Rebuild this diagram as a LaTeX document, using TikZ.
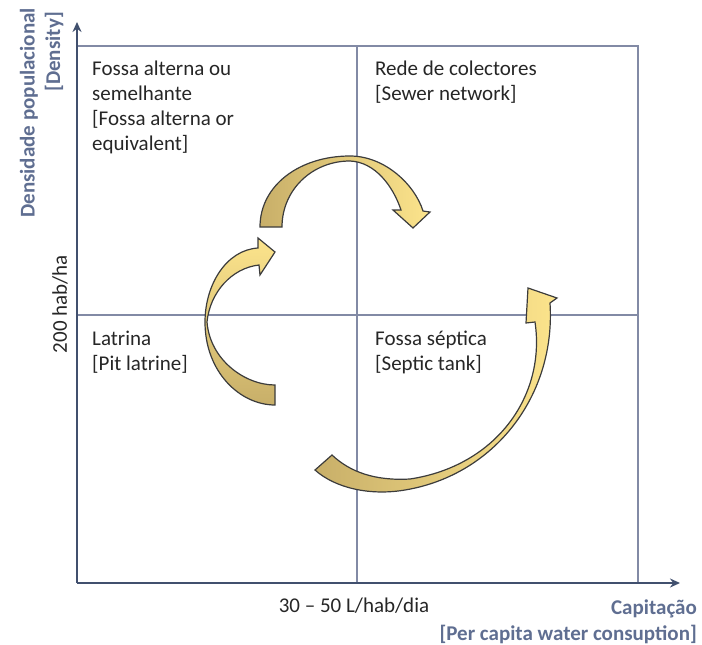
\documentclass[tikz,border=0pt]{standalone}
\usepackage{fontspec}
\setmainfont{Carlito}
\usetikzlibrary{arrows.meta}
\definecolor{axiscol}{RGB}{65,80,110}
\definecolor{labelcol}{RGB}{95,110,145}
\definecolor{gridcol}{RGB}{130,138,165}
\definecolor{tanc}{RGB}{200,175,105}
\definecolor{lightyel}{RGB}{252,228,140}
\definecolor{outlinec}{RGB}{60,60,60}
\tikzset{
  gridline/.style={draw=gridcol, line width=1.2pt},
  axisline/.style={draw=axiscol, line width=2.4pt, -{Stealth[length=10pt,width=9pt]}},
  quad/.style={font=\fontsize{21}{25}\selectfont, align=left, anchor=base west, inner sep=0pt, text=black!85},
  plain/.style={font=\fontsize{21}{25}\selectfont, inner sep=0pt, text=black!85},
  axlabel/.style={font=\fontsize{21}{25}\selectfont\bfseries, text=labelcol, inner sep=0pt},
  blockarrow/.style={draw=outlinec, line width=1.2pt, line join=miter},
}
\begin{document}
\begin{tikzpicture}[x=1pt,y=-1pt]
\useasboundingbox (0,0) rectangle (702,645);
% frame coordinates
\coordinate (O) at (77,583);
\coordinate (ytip) at (77,22);
\coordinate (xtip) at (680,583);
\coordinate (TL) at (77,46);
\coordinate (TR) at (638,46);
\coordinate (BR) at (638,583);
\coordinate (TM) at (357,46);
\coordinate (BM) at (357,583);
\coordinate (ML) at (77,315);
\coordinate (MR) at (638,315);
% grid
\draw[gridline] (TL) -- (TR) -- (BR);
\draw[gridline] (TM) -- (BM);
\draw[gridline] (ML) -- (MR);
% axes
\draw[axisline] (O) -- (ytip);
\draw[axisline] (O) -- (xtip);
% quadrant labels (anchored at the baseline of the last line)
\node[quad] (q1) at (92,150) {Fossa alterna ou\\semelhante\\{}[Fossa alterna or\\equivalent]};
\node[quad] (q2) at (375,100) {Rede de colectores\\{}[Sewer network]};
\node[quad] (q3) at (92,370) {Latrina\\{}[Pit latrine]};
\node[quad] (q4) at (375,370) {Fossa séptica\\{}[Septic tank]};
% axis labels
\node[axlabel, rotate=90, anchor=east] (ylab1) at (29,8) {Densidade populacional};
\node[axlabel, rotate=90, anchor=east] (ylab2) at (54,12) {[Density]};
\node[plain, rotate=90] (dens) at (60,304) {200 hab/ha};
\node[plain] (capv) at (354,606) {30 – 50 L/hab/dia};
\node[axlabel, anchor=east] (xlab1) at (697,609) {Capitação};
\node[axlabel, anchor=east] (xlab2) at (697,634) {[Per capita water consuption]};
% curved block arrows
\path[blockarrow, top color=lightyel, bottom color=tanc]
  (275,405) -- (275,385) .. controls (245,385) and (210,360) .. (207,322)
  .. controls (210,292) and (232,268) .. (259,265) -- (260,275) -- (275,252)
  -- (258,238) -- (258,248) .. controls (226,250) and (205,285) .. (205,322)
  .. controls (205,372) and (240,405) .. (275,405) -- cycle;
\path[blockarrow, left color=tanc, right color=lightyel]
  (260,227) .. controls (260,185) and (300,156) .. (350,156)
  .. controls (385,156) and (415,185) .. (423,211) -- (430,212) -- (413,228)
  -- (393,210) -- (401,210) .. controls (393,186) and (375,162) .. (350,161)
  .. controls (312,161) and (282,190) .. (282,227) -- cycle;
\path[blockarrow, left color=tanc, right color=lightyel]
  (315,470) -- (332,455) .. controls (350,472) and (375,481) .. (410,479)
  .. controls (496,466) and (546,396) .. (535,322) -- (526,323) -- (528,288)
  -- (557,298) -- (550,303) .. controls (556,395) and (495,475) .. (405,490)
  .. controls (370,496) and (335,488) .. (315,470) -- cycle;
\end{tikzpicture}
\end{document}
